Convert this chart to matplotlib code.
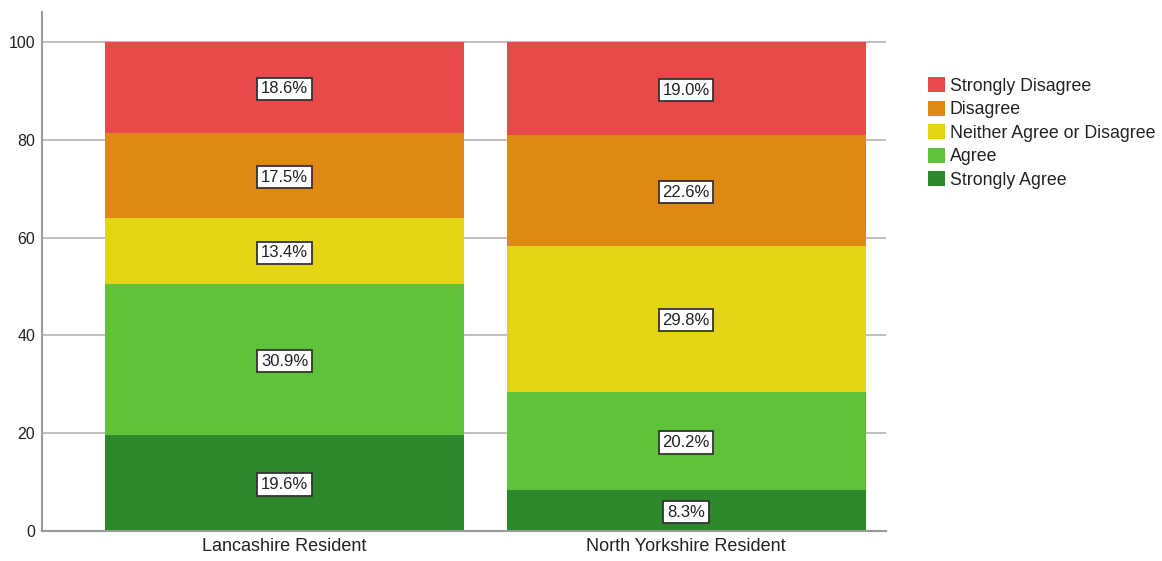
import numpy as np
import matplotlib
matplotlib.use('Agg')
import matplotlib.pyplot as plt

plt.rcParams['font.family'] = ['Liberation Sans', 'DejaVu Sans']

groups = ['Lancashire Resident', 'North Yorkshire Resident']
# bottom to top of each stack
categories = ['Strongly Agree', 'Agree', 'Neither Agree or Disagree', 'Disagree', 'Strongly Disagree']
strongly_agree = [19.6, 8.3]
agree = [30.9, 20.2]
neither = [13.4, 29.8]
disagree = [17.5, 22.6]
strongly_disagree = [18.6, 19.0]

colors = ['#2b882b', '#60c23a', '#e2d514', '#de8a12', '#e84a4c']

series = [strongly_agree, agree, neither, disagree, strongly_disagree]

fig = plt.figure(figsize=(11.62, 5.61), dpi=100)
ax = fig.add_axes([0.0361, 0.0535, 0.7264, 0.9251])

x = np.arange(len(groups))
bottom = np.zeros(len(groups))
handles = []
for name, vals, col in zip(categories, series, colors):
    vals = np.array(vals)
    bars = ax.bar(x, vals, width=0.894, bottom=bottom, color=col, label=name, zorder=2)
    handles.append(bars)
    for xi, b, v in zip(x, bottom, vals):
        ax.text(xi, b + v / 2, f'{v:.1f}%', ha='center', va='center_baseline', fontsize=12,
                color='#222222', zorder=3,
                bbox=dict(boxstyle='square,pad=0.22', facecolor='white', edgecolor='#333333', linewidth=1.3))
    bottom = bottom + vals

ax.set_xlim(-0.604, 1.498)
ax.set_ylim(0, 106.1)
ax.set_yticks([0, 20, 40, 60, 80, 100])
ax.set_xticks(x)
ax.set_xticklabels(groups, fontsize=13, color='#222222')
ax.tick_params(axis='y', labelsize=11.5, length=0, pad=5, labelcolor='#222222')
ax.tick_params(axis='x', length=0, pad=5)
ax.yaxis.grid(True, color='#b4b4b4', linewidth=1.2, zorder=0)
ax.set_axisbelow(True)
for s in ['top', 'right']:
    ax.spines[s].set_visible(False)
for s in ['left', 'bottom']:
    ax.spines[s].set_color('#999999')
    ax.spines[s].set_linewidth(1.5)

leg = fig.legend(handles[::-1], categories[::-1], loc='upper left', bbox_to_anchor=(0.799, 0.8625),
                 frameon=False, fontsize=12.8, handlelength=0.95, handleheight=0.95,
                 handletextpad=0.25, labelspacing=0.32, borderpad=0, borderaxespad=0)
for t in leg.get_texts():
    t.set_color('#222222')

fig.savefig('out.png', dpi=100)
